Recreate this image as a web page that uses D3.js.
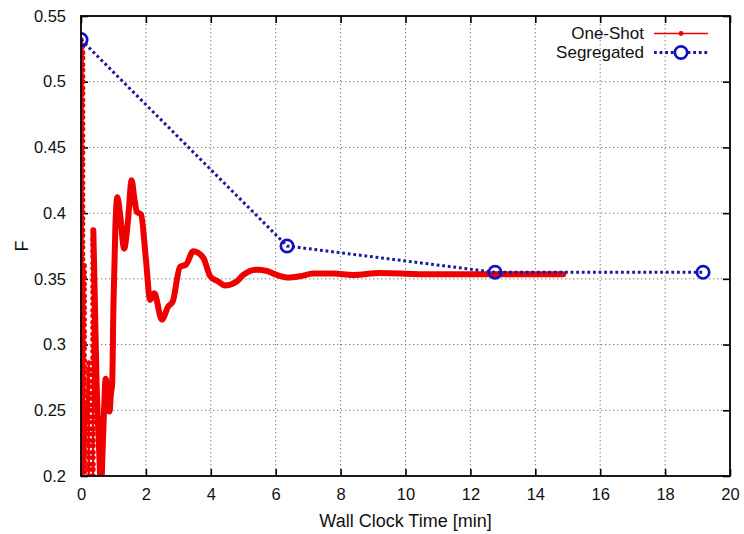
<!DOCTYPE html>
<html>
<head>
<meta charset="utf-8">
<script src="https://cdn.jsdelivr.net/npm/d3@7"></script>
<style>
  body { margin: 0; background: #fff; }
  text { font-family: "Liberation Sans", Arial, Helvetica, sans-serif; }
</style>
</head>
<body>
<div id="chart"></div>
<script>
// ---------- data ----------
const xTicks = [0, 2, 4, 6, 8, 10, 12, 14, 16, 18, 20];
const yTicks = [0.2, 0.25, 0.3, 0.35, 0.4, 0.45, 0.5, 0.55];
const legendLabels = ["One-Shot", "Segregated"];

// Segregated runs
const segTime = [0, 6.35, 12.76, 19.17];
const segF = [0.532, 0.375, 0.355, 0.355];

// One-Shot, first iterations: near-vertical runs of samples (time in min, F in drawing order)
const burstTime = [0, 0.05, 0.10, 0.24, 0.37];
const burstF = [
  [0.532],
  [0.527, 0.522, 0.518, 0.513, 0.509, 0.504, 0.500, 0.495, 0.491, 0.486, 0.482, 0.477, 0.473,
   0.468, 0.464, 0.459, 0.455, 0.450, 0.446, 0.441, 0.437, 0.432, 0.428, 0.423, 0.419, 0.414,
   0.410, 0.405, 0.401, 0.396, 0.392, 0.387, 0.383, 0.378, 0.374, 0.369, 0.365, 0.360, 0.356,
   0.351, 0.347, 0.342, 0.338, 0.333, 0.329, 0.324, 0.320, 0.315, 0.311, 0.306, 0.302, 0.297,
   0.293, 0.288, 0.284, 0.279, 0.275, 0.270, 0.266, 0.261, 0.257, 0.252, 0.248, 0.243, 0.239,
   0.234, 0.230, 0.225, 0.221, 0.216, 0.212, 0.207, 0.203, 0.198, 0.194],
  [0.360, 0.355, 0.351, 0.346, 0.342, 0.337, 0.333, 0.328, 0.324, 0.319, 0.315, 0.310, 0.306,
   0.301, 0.297, 0.292, 0.288, 0.283, 0.279, 0.274, 0.270, 0.265, 0.261, 0.256, 0.252, 0.247,
   0.243, 0.238, 0.234, 0.229, 0.225, 0.220, 0.216, 0.211, 0.207, 0.203],
  [0.286, 0.281, 0.277, 0.272, 0.268, 0.263, 0.259, 0.254, 0.250, 0.245, 0.241, 0.236, 0.232,
   0.227, 0.223, 0.218, 0.214, 0.209, 0.205, 0.200, 0.196, 0.191],
  [0.191, 0.196, 0.200, 0.205, 0.209, 0.214, 0.218, 0.223, 0.227, 0.232, 0.236, 0.241, 0.245,
   0.250, 0.254, 0.259, 0.263, 0.268, 0.272, 0.277, 0.281, 0.286, 0.290, 0.295, 0.299, 0.304,
   0.308, 0.313, 0.317, 0.322, 0.326, 0.331, 0.335, 0.340, 0.344, 0.349, 0.353, 0.358, 0.362,
   0.367, 0.371, 0.376, 0.380]
];

// One-Shot, rest of the run (dense samples, drawn as a thick trace)
const traceTime = [0.38, 0.43, 0.48, 0.55, 0.62, 0.66, 0.71, 0.76, 0.80, 0.85, 0.88, 0.92, 0.96,
  1.00, 1.06, 1.12, 1.20, 1.33, 1.45, 1.56, 1.65, 1.72, 1.85, 2.00, 2.13, 2.26, 2.49, 2.69, 2.83,
  3.05, 3.24, 3.46, 3.77, 3.98, 4.23, 4.44, 4.80, 5.00, 5.41, 5.72, 6.03, 6.39, 6.75, 7.16, 7.78,
  8.38, 9.21, 10.45, 12.0, 13.5, 14.86];
const traceF = [0.387, 0.330, 0.271, 0.225, 0.190, 0.215, 0.250, 0.274, 0.268, 0.250, 0.249, 0.262,
  0.270, 0.330, 0.390, 0.412, 0.400, 0.373, 0.395, 0.425, 0.410, 0.401, 0.399, 0.365, 0.334, 0.339,
  0.319, 0.329, 0.333, 0.359, 0.361, 0.371, 0.366, 0.352, 0.348, 0.345, 0.348, 0.353, 0.357, 0.356,
  0.353, 0.351, 0.352, 0.354, 0.354, 0.353, 0.3544, 0.3536, 0.3535, 0.3535, 0.3535];

// ---------- layout ----------
const width = 744, height = 534;
const margin = { top: 16, right: 14, bottom: 58, left: 81 };
const iw = width - margin.left - margin.right;
const ih = height - margin.top - margin.bottom;

const red = "#ee0000";
const blueLine = "#1a1a9c";
const blueMark = "#1010c4";

const svg = d3.select("#chart").append("svg")
  .attr("width", width)
  .attr("height", height)
  .style("background", "#fff");

const g = svg.append("g").attr("transform", `translate(${margin.left},${margin.top})`);

const x = d3.scaleLinear().domain([0, 20]).range([0, iw]);
const y = d3.scaleLinear().domain([0.2, 0.55]).range([ih, 0]);

// grid
g.append("g").selectAll("line")
  .data(xTicks.slice(1, -1))
  .join("line")
  .attr("x1", d => x(d)).attr("x2", d => x(d))
  .attr("y1", 0).attr("y2", ih)
  .attr("stroke", "#777").attr("stroke-width", 1)
  .attr("stroke-dasharray", "1.3,2.7");

g.append("g").selectAll("line")
  .data(yTicks.slice(1, -1))
  .join("line")
  .attr("x1", 0).attr("x2", iw)
  .attr("y1", d => y(d)).attr("y2", d => y(d))
  .attr("stroke", "#777").attr("stroke-width", 1)
  .attr("stroke-dasharray", "1.3,2.7");

// axes (ticks pointing inward)
const fmtY = d => String(+d.toFixed(2));
const tickLen = 7;

const xAxis = g.append("g").attr("transform", `translate(0,${ih})`)
  .call(d3.axisBottom(x).tickValues(xTicks).tickSizeInner(-tickLen).tickSizeOuter(0).tickPadding(12));
const xTop = g.append("g")
  .call(d3.axisTop(x).tickValues(xTicks).tickSizeInner(-tickLen).tickSizeOuter(0).tickFormat(""));
const yAxis = g.append("g")
  .call(d3.axisLeft(y).tickValues(yTicks).tickSizeInner(-tickLen).tickSizeOuter(0).tickPadding(15).tickFormat(fmtY));
const yRight = g.append("g").attr("transform", `translate(${iw},0)`)
  .call(d3.axisRight(y).tickValues(yTicks).tickSizeInner(-tickLen).tickSizeOuter(0).tickFormat(""));

[xAxis, xTop, yAxis, yRight].forEach(a => {
  a.select(".domain").remove();
  a.selectAll(".tick line").attr("stroke", "#000").attr("stroke-width", 1.6);
  a.selectAll("text").attr("font-size", 16.5).attr("fill", "#111")
    .style("font-family", '"Liberation Sans", Arial, sans-serif');
});

// clip
svg.append("clipPath").attr("id", "plotClip")
  .append("rect").attr("width", iw).attr("height", ih);

const plot = g.append("g").attr("clip-path", "url(#plotClip)");

// One-Shot
const burstPts = burstTime.flatMap((t, i) => burstF[i].map(f => ({ t, f })));
const tracePts = traceTime.map((t, i) => ({ t, f: traceF[i] }));

const lineLin = d3.line().x(d => x(d.t)).y(d => y(d.f));
const lineSmooth = d3.line().x(d => x(d.t)).y(d => y(d.f)).curve(d3.curveMonotoneX);

plot.append("path")
  .datum(burstPts.concat(tracePts.slice(0, 1)))
  .attr("d", lineLin)
  .attr("fill", "none").attr("stroke", red).attr("stroke-width", 2.2)
  .attr("stroke-linejoin", "round");

plot.append("g").selectAll("circle")
  .data(burstPts)
  .join("circle")
  .attr("cx", d => x(d.t)).attr("cy", d => y(d.f))
  .attr("r", 2.7).attr("fill", red);

plot.append("path")
  .datum(tracePts)
  .attr("d", lineSmooth)
  .attr("fill", "none").attr("stroke", red).attr("stroke-width", 6)
  .attr("stroke-linejoin", "round").attr("stroke-linecap", "round");

// Segregated
const segPts = segTime.map((t, i) => ({ t, f: segF[i] }));
plot.append("path")
  .datum(segPts)
  .attr("d", lineLin)
  .attr("fill", "none").attr("stroke", blueLine).attr("stroke-width", 3)
  .attr("stroke-dasharray", "2.8,2.8");

plot.append("g").selectAll("circle")
  .data(segPts)
  .join("circle")
  .attr("cx", d => x(d.t)).attr("cy", d => y(d.f))
  .attr("r", 6.2).attr("fill", "none")
  .attr("stroke", blueMark).attr("stroke-width", 2.7);

// frame
g.append("rect")
  .attr("width", iw).attr("height", ih)
  .attr("fill", "none").attr("stroke", "#000").attr("stroke-width", 1.8);

// axis titles
svg.append("text")
  .attr("x", margin.left + iw / 2).attr("y", height - 7)
  .attr("text-anchor", "middle").attr("font-size", 18).attr("fill", "#111")
  .text("Wall Clock Time [min]");

svg.append("text")
  .attr("transform", `translate(28,246) rotate(-90)`)
  .attr("text-anchor", "middle").attr("font-size", 18).attr("fill", "#111")
  .text("F");

// legend
const legend = svg.append("g");
const legX = 644, sampleX0 = 654, sampleX1 = 708;
const legRows = [39, 58];

legend.selectAll("text")
  .data(legendLabels)
  .join("text")
  .attr("x", legX).attr("y", (d, i) => legRows[i])
  .attr("text-anchor", "end").attr("font-size", 17).attr("fill", "#111")
  .text(d => d);

legend.append("line")
  .attr("x1", sampleX0).attr("x2", sampleX1)
  .attr("y1", legRows[0] - 5.5).attr("y2", legRows[0] - 5.5)
  .attr("stroke", red).attr("stroke-width", 1.6);
legend.append("circle")
  .attr("cx", (sampleX0 + sampleX1) / 2).attr("cy", legRows[0] - 5.5)
  .attr("r", 2.4).attr("fill", red);

legend.append("line")
  .attr("x1", sampleX0).attr("x2", sampleX1)
  .attr("y1", legRows[1] - 5.5).attr("y2", legRows[1] - 5.5)
  .attr("stroke", blueLine).attr("stroke-width", 3)
  .attr("stroke-dasharray", "2.8,2.8");
legend.append("circle")
  .attr("cx", (sampleX0 + sampleX1) / 2).attr("cy", legRows[1] - 5.5)
  .attr("r", 6.2).attr("fill", "#fff")
  .attr("stroke", blueMark).attr("stroke-width", 2.7);
</script>
</body>
</html>
